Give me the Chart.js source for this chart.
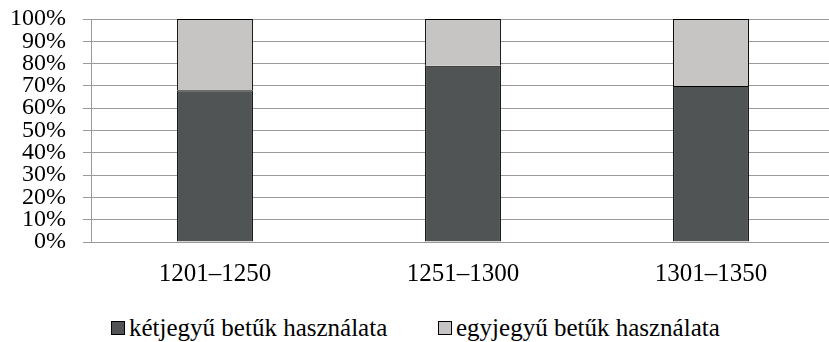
<!DOCTYPE html>
<html lang="hu">
<head>
<meta charset="utf-8">
<script src="https://cdn.jsdelivr.net/npm/chart.js@4"></script>
<style>
  html, body { margin:0; padding:0; background:#fff; overflow:hidden; }
  #wrap { position:relative; width:836px; height:342px; }
  #chart { position:absolute; left:0; top:-10px; }
  #legend { position:absolute; left:111px; top:314px; font-size:25px; color:#000; white-space:nowrap; }
  .item { position:absolute; top:0; display:flex; align-items:center; }
  .box { width:12px; height:12px; border:1px solid #000; margin-right:4px; }
</style>
</head>
<body>
<div id="wrap">
  <canvas id="chart" width="836" height="318"></canvas>
  <div id="legend"></div>
</div>
<script>
// ------------------ DATA ------------------
const periods = ["1201–1250", "1251–1300", "1301–1350"];
const ketjegyu = [68, 79, 70];   // kétjegyű betűk (%)
const egyjegyu = [32, 21, 30];   // egyjegyű betűk (%)
const yTicks = [0, 10, 20, 30, 40, 50, 60, 70, 80, 90, 100];

const seriesNames = ["kétjegyű betűk használata", "egyjegyű betűk használata"];
const seriesColors = ["#505455", "#c6c5c3"];

const serif = "'Liberation Serif', 'Times New Roman', serif";
const gridGray = "#9a9a9a";

// ------------------ CHART ------------------
const ctx = document.getElementById("chart").getContext("2d");
new Chart(ctx, {
    type: "bar",
    data: {
        labels: periods,
        datasets: [
            {label: seriesNames[0], data: ketjegyu, backgroundColor: seriesColors[0], borderColor: "#000", borderWidth: 1},
            {label: seriesNames[1], data: egyjegyu, backgroundColor: seriesColors[1], borderColor: "#000", borderWidth: 1}
        ]
    },
    options: {
        responsive: false,
        animation: false,
        layout: {padding: {top: 8, right: 1, bottom: 10, left: 0}},
        datasets: {bar: {barPercentage: 0.306, categoryPercentage: 1}},
        plugins: {legend: {display: false}, tooltip: {enabled: false}},
        scales: {
            x: {
                stacked: true,
                grid: {display: false},
                border: {display: true, color: gridGray, width: 1},
                ticks: {color: "#000", padding: 9, font: {family: serif, size: 25}}
            },
            y: {
                stacked: true,
                min: 0,
                max: 100,
                afterBuildTicks: s => { s.ticks = yTicks.map(v => ({value: v})); },
                afterFit: s => { s.width = 91; },
                grid: {color: gridGray, lineWidth: 1, drawTicks: true, tickLength: 8},
                border: {display: true, color: gridGray, width: 1},
                ticks: {
                    autoSkip: false,
                    color: "#000",
                    padding: 17,
                    font: {family: serif, size: 24, lineHeight: 1},
                    callback: v => v + "%"
                }
            }
        }
    }
});

// ------------------ LEGEND ------------------
const legend = document.getElementById("legend");
legend.style.fontFamily = serif;
const itemX = [0, 327];
seriesNames.forEach((name, i) => {
    const item = document.createElement("div");
    item.className = "item";
    item.style.left = itemX[i] + "px";
    item.innerHTML = `<span class="box" style="background:${seriesColors[i]}"></span><span>${name}</span>`;
    legend.appendChild(item);
});
</script>
</body>
</html>
